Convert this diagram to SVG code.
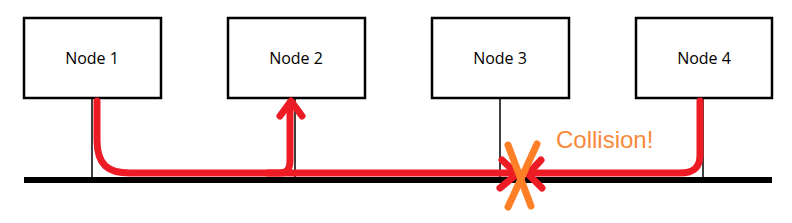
<svg xmlns="http://www.w3.org/2000/svg" width="792" height="223" viewBox="0 0 792 223">
<style>
.box{fill:#fff;stroke:#000;stroke-width:2.5}
.lbl{font-family:"Open Sans","Noto Sans",sans-serif;font-size:16px;fill:#000;text-anchor:middle}
.drop{stroke:#000;stroke-width:1.5;fill:none}
.red{stroke:#ED1C24;stroke-width:7;fill:none;stroke-linecap:round;stroke-linejoin:round}
.org{stroke:#FF7F27;stroke-width:7;fill:none;stroke-linecap:round}
</style>
<rect width="792" height="223" fill="#fff"/>
<g id="bus">
<line x1="24" y1="180" x2="772" y2="180" stroke="#000" stroke-width="6"/>
</g>
<g id="node1"><rect class="box" x="24" y="18" width="137" height="80"/><text class="lbl" x="92" y="64">Node 1</text><line class="drop" x1="92" y1="98" x2="92" y2="180"/></g>
<g id="node2"><rect class="box" x="228" y="18" width="137" height="80"/><text class="lbl" x="296" y="64">Node 2</text><line class="drop" x1="295" y1="98" x2="295" y2="180"/></g>
<g id="node3"><rect class="box" x="432" y="18" width="137" height="80"/><text class="lbl" x="500" y="64">Node 3</text><line class="drop" x1="500" y1="98" x2="500" y2="180"/></g>
<g id="node4"><rect class="box" x="636" y="18" width="136" height="80"/><text class="lbl" x="704" y="64">Node 4</text><line class="drop" x1="703" y1="98" x2="703" y2="180"/></g>
<g id="connectors">
<path class="red" d="M97,101 L97,140 C97,165 108,173 130,173 L515,173"/>
<path class="red" d="M268,173 L280,173 C288,173 290,168 290,160 L290,103"/>
<polyline class="red" points="280,116 291,101 302,116"/>
<path class="red" d="M700,101 L700,155 C700,168 693,173 680,173 L530,173"/>
<polyline class="red" points="502,160 517,174 500,188"/>
<polyline class="red" points="541,160 528,174 542,188"/>
<line class="org" x1="508" y1="145" x2="531" y2="206"/>
<line class="org" x1="537" y1="144" x2="508" y2="207"/>
</g>
<text x="556" y="148" font-family="Liberation Sans,Arial,sans-serif" font-size="24" fill="#F7893A">Collision!</text>
</svg>
